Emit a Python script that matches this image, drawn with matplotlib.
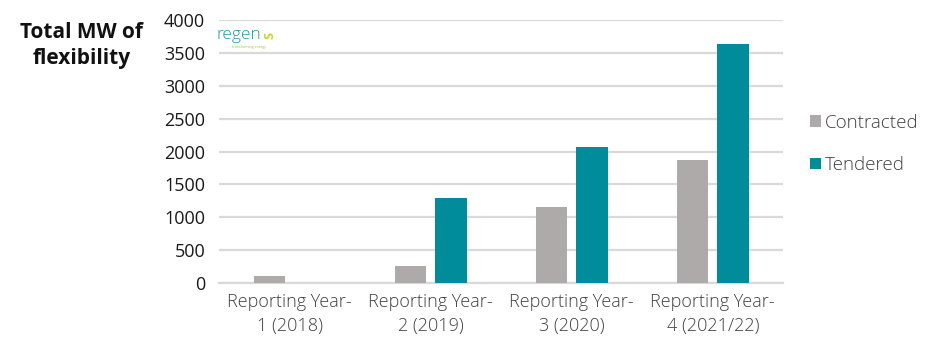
import matplotlib
matplotlib.use("Agg")
import matplotlib.pyplot as plt
import numpy as np

categories = ["Reporting Year-\n1 (2018)", "Reporting Year-\n2 (2019)",
              "Reporting Year-\n3 (2020)", "Reporting Year-\n4 (2021/22)"]
contracted = [110, 255, 1160, 1865]
tendered = [0, 1300, 2065, 3635]
yticks = [0, 500, 1000, 1500, 2000, 2500, 3000, 3500, 4000]

plt.rcParams["font.family"] = ["Open Sans", "DejaVu Sans"]

fig = plt.figure(figsize=(9.39, 3.4), dpi=100)
ax = fig.add_axes([0.2332, 0.1676, 0.6010, 0.7736])

x = np.arange(len(categories))
w = 0.223
off = 0.1436
c_grey = "#AEAAAA"
c_teal = "#008C9B"
ax.bar(x - off, contracted, width=w, color=c_grey, label="Contracted", zorder=3)
ax.bar(x + off, tendered, width=w, color=c_teal, label="Tendered", zorder=3)

ax.set_xlim(-0.5, len(categories) - 0.5)
ax.set_ylim(0, 4000)
ax.set_yticks(yticks)
ax.set_yticklabels([str(v) for v in yticks], fontsize=13, color="#1a1a1a")
ax.set_xticks(x)
ax.set_xticklabels(categories, fontsize=13, color="#404040", linespacing=1.42,
                   fontweight="light")
ax.tick_params(axis="both", length=0)
ax.tick_params(axis="y", pad=10)
ax.tick_params(axis="x", pad=7)

ax.grid(axis="y", color="#d9d9d9", linewidth=1.6, zorder=0)
for s in ["top", "right", "left"]:
    ax.spines[s].set_visible(False)
ax.spines["bottom"].set_color("#d9d9d9")
ax.spines["bottom"].set_linewidth(1.6)

leg = fig.legend(loc="upper left", bbox_to_anchor=(0.845, 0.715), frameon=False,
                 fontsize=13.5, handlelength=0.55, handleheight=0.55,
                 handletextpad=0.25, labelspacing=1.3)
for t in leg.get_texts():
    t.set_color("#404040")
    t.set_fontweight("light")

fig.text(0.087, 0.865, "Total MW of\nflexibility", ha="center", va="center",
         fontsize=15, fontweight="bold", color="#111111", linespacing=1.3)

# logo
fig.text(0.231, 0.897, "regen", ha="left", va="center", fontsize=12.5,
         color="#1E9AA8", fontweight="light")
fig.text(0.281, 0.897, "S", ha="left", va="center", fontsize=9,
         color="#C5D629", fontweight="bold", rotation=90)
fig.text(0.2475, 0.862, "transforming energy", ha="left", va="center",
         fontsize=2.6, color="#A8C23A")

fig.savefig("out.png", dpi=100)
